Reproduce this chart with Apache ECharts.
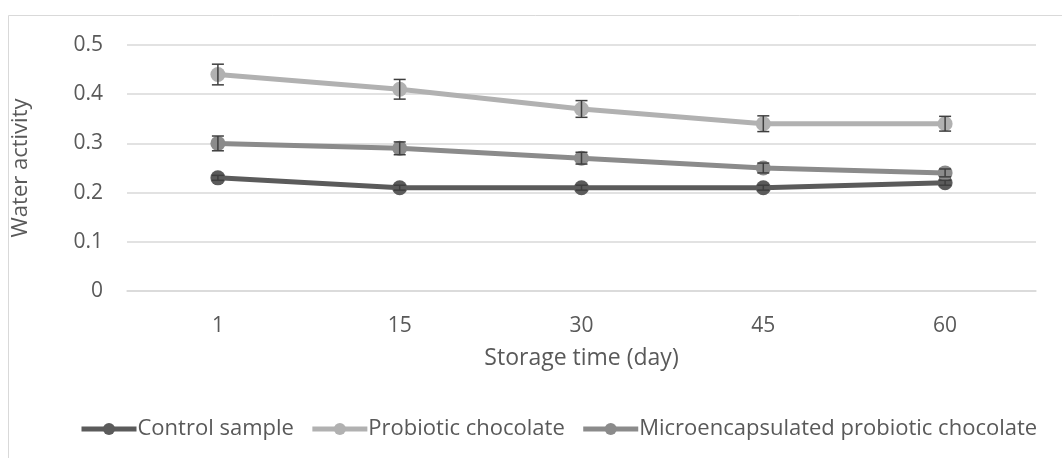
<!DOCTYPE html>
<html><head><meta charset="utf-8">
<script src="https://cdn.jsdelivr.net/npm/echarts@6/dist/echarts.min.js"></script>
<style>html,body{margin:0;padding:0;background:#fff}#c{width:1062px;height:458px}</style>
</head><body><div id="c"></div>
<script>
const categories = ['1', '15', '30', '45', '60'];
const controlValues = [0.23, 0.21, 0.21, 0.21, 0.22];
const probioticValues = [0.44, 0.41, 0.37, 0.34, 0.34];
const microValues = [0.30, 0.29, 0.27, 0.25, 0.24];
const controlErr = [0.005, 0.005, 0.005, 0.005, 0.005];
const probioticErr = [0.021, 0.02, 0.017, 0.016, 0.015];
const microErr = [0.015, 0.013, 0.012, 0.01, 0.008];
const yTicks = [0, 0.1, 0.2, 0.3, 0.4, 0.5];

const FONT = 'Open Sans';
const TXT = '#595959';
const colors = { control: '#5b5b5b', probiotic: '#b1b1b1', micro: '#8b8b8b' };

function errSeries(vals, errs, z) {
  return {
    type: 'custom', z: z, silent: true,
    data: vals.map((v, i) => [i, v - errs[i], v + errs[i]]),
    renderItem: function (params, api) {
      const x = api.value(0);
      const lo = api.coord([x, api.value(1)]);
      const hi = api.coord([x, api.value(2)]);
      const w = 6;
      const st = { stroke: '#3f3f3f', lineWidth: 1.5 };
      return { type: 'group', children: [
        { type: 'line', shape: { x1: lo[0], y1: lo[1], x2: hi[0], y2: hi[1] }, style: st },
        { type: 'line', shape: { x1: lo[0] - w, y1: lo[1], x2: lo[0] + w, y2: lo[1] }, style: st },
        { type: 'line', shape: { x1: hi[0] - w, y1: hi[1], x2: hi[0] + w, y2: hi[1] }, style: st }
      ]};
    }
  };
}

function lineSeries(name, vals, color, z) {
  return {
    name: name, type: 'line', data: vals, z: z,
    symbol: 'circle', symbolSize: 15,
    lineStyle: { color: color, width: 5 },
    itemStyle: { color: color },
    emphasis: { disabled: true }
  };
}

const chart = echarts.init(document.getElementById('c'));
chart.setOption({
  animation: false,
  backgroundColor: '#fff',
  graphic: [{ type: 'rect', shape: { x: 8.5, y: 15.5, width: 1060, height: 460 },
    style: { fill: 'none', stroke: '#d9d9d9', lineWidth: 1 }, silent: true }],
  grid: { left: 127, right: 26, top: 45, bottom: 167 },
  legend: {
    top: 413, left: 74, itemWidth: 55, itemHeight: 15, itemGap: 16,
    lineStyle: { width: 5 },
    textStyle: { fontFamily: FONT, fontSize: 22, color: TXT, padding: [0, 0, 0, -4] },
    data: ['Control sample', 'Probiotic chocolate', 'Microencapsulated probiotic chocolate']
  },
  xAxis: {
    type: 'category', data: categories, boundaryGap: true,
    name: 'Storage time (day)', nameLocation: 'middle', nameGap: 56,
    nameTextStyle: { fontFamily: FONT, fontSize: 23, color: TXT },
    axisLine: { show: true, lineStyle: { color: '#d9d9d9', width: 1.5 } },
    axisTick: { show: false },
    axisLabel: { fontFamily: FONT, fontSize: 21, color: TXT, margin: 25 }
  },
  yAxis: {
    type: 'value', min: 0, max: 0.5, interval: 0.1,
    name: 'Water activity', nameLocation: 'middle', nameGap: 95,
    nameTextStyle: { fontFamily: FONT, fontSize: 22, color: TXT },
    axisLine: { show: false }, axisTick: { show: false },
    axisLabel: { fontFamily: FONT, fontSize: 21, color: TXT, margin: 24,
      formatter: v => { const t = yTicks.find(k => Math.abs(k - v) < 1e-9); return t === 0 ? '0' : String(+t.toFixed(1)); } },
    splitLine: { lineStyle: { color: '#d9d9d9', width: 1.5 } }
  },
  series: [
    lineSeries('Control sample', controlValues, colors.control, 3),
    lineSeries('Probiotic chocolate', probioticValues, colors.probiotic, 3),
    lineSeries('Microencapsulated probiotic chocolate', microValues, colors.micro, 3),
    errSeries(controlValues, controlErr, 4),
    errSeries(probioticValues, probioticErr, 4),
    errSeries(microValues, microErr, 4)
  ]
});
</script></body></html>
